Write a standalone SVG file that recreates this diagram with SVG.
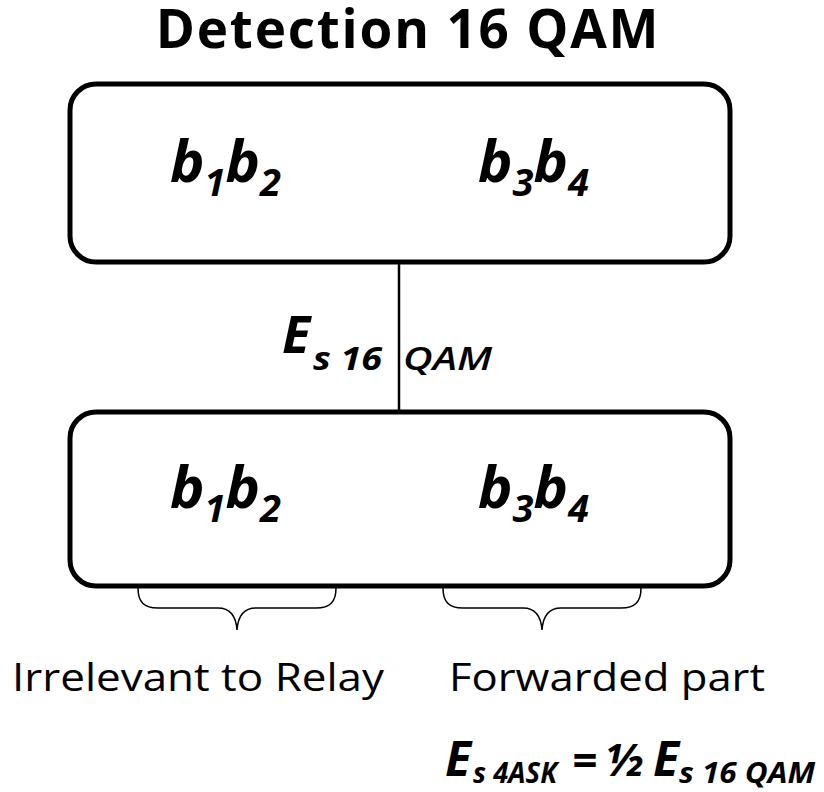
<svg xmlns="http://www.w3.org/2000/svg" width="824" height="792" viewBox="0 0 824 792">
<style>
.box{fill:#fff;stroke:#000;stroke-width:5}
.t{font-family:"Open Sans","Noto Sans","Liberation Sans",sans-serif;fill:#000}
.bi{font-weight:bold;font-style:italic}
.b{font-size:58px}
.sub{font-size:38px}
.brace{fill:none;stroke:#000;stroke-width:1.5}
.conn{stroke:#000;stroke-width:2.5;fill:none}
</style>
<rect width="824" height="792" fill="#fff"/>
<text class="t" x="408" y="48" font-size="53" font-weight="bold" text-anchor="middle" letter-spacing="1.8">Detection 16 QAM</text>
<g id="connectors">
<line class="conn" x1="399" y1="262" x2="399" y2="412"/>
</g>
<g id="top">
<rect class="box" x="70" y="84" width="660" height="178" rx="26"/>
<text class="t bi" x="170" y="182"><tspan class="b">b</tspan><tspan class="sub" dy="14">1</tspan><tspan class="b" dy="-14">b</tspan><tspan class="sub" dy="14">2</tspan></text>
<text class="t bi" x="478" y="182"><tspan class="b">b</tspan><tspan class="sub" dy="14">3</tspan><tspan class="b" dy="-14">b</tspan><tspan class="sub" dy="14">4</tspan></text>
</g>
<g id="label-es">
<text class="t bi" x="282" y="353" font-size="52">E</text>
<text class="t bi" x="313" y="370" font-size="33" textLength="69" lengthAdjust="spacingAndGlyphs">s 16</text>
<text class="t" x="403" y="370" font-size="33" font-style="italic" font-weight="600" textLength="89" lengthAdjust="spacingAndGlyphs">QAM</text>
</g>
<g id="bottom">
<rect class="box" x="70" y="412" width="660" height="174" rx="26"/>
<text class="t bi" x="170" y="508"><tspan class="b">b</tspan><tspan class="sub" dy="14">1</tspan><tspan class="b" dy="-14">b</tspan><tspan class="sub" dy="14">2</tspan></text>
<text class="t bi" x="478" y="508"><tspan class="b">b</tspan><tspan class="sub" dy="14">3</tspan><tspan class="b" dy="-14">b</tspan><tspan class="sub" dy="14">4</tspan></text>
</g>
<g id="brace-left">
<path class="brace" d="M138,588 C138,602 144,608 158,608 L218,608 C230,608 236,616 237,630 C238,616 244,608 256,608 L316,608 C330,608 336,602 336,588"/>
</g>
<g id="brace-right">
<path class="brace" d="M443,588 C443,602 449,608 463,608 L523,608 C535,608 541,616 542,630 C543,616 549,608 561,608 L621,608 C635,608 641,602 641,588"/>
</g>
<text class="t" x="12" y="691" font-size="39" textLength="372" lengthAdjust="spacingAndGlyphs">Irrelevant to Relay</text>
<text class="t" x="449" y="691" font-size="39" textLength="316" lengthAdjust="spacingAndGlyphs">Forwarded part</text>
<g id="formula">
<text class="t bi" x="445" y="776" font-size="48">E</text>
<text class="t bi" x="473" y="783" font-size="28" textLength="84" lengthAdjust="spacingAndGlyphs">s 4ASK</text>
<text class="t bi" x="572" y="776" font-size="44">=</text>
<text class="t bi" x="605" y="776" font-size="44">½</text>
<text class="t bi" x="653" y="776" font-size="48">E</text>
<text class="t bi" x="679" y="783" font-size="28" textLength="136" lengthAdjust="spacingAndGlyphs">s 16 QAM</text>
</g>
</svg>
